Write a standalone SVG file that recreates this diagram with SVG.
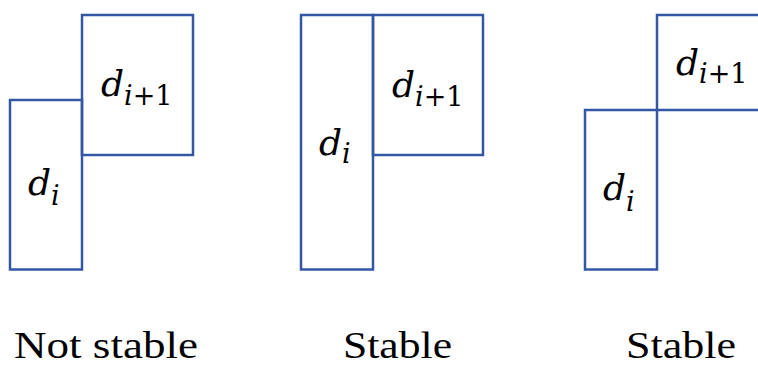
<svg xmlns="http://www.w3.org/2000/svg" width="758" height="365" viewBox="0 0 758 365">
<style>
.box{fill:none;stroke:#3457a5;stroke-width:2.5}
.v{font-family:"DejaVu Serif",serif;font-style:italic;font-size:36px;fill:#000}
.s{font-family:"DejaVu Serif",serif;font-style:normal;font-size:27px;fill:#000}
.si{font-style:italic}
.lbl{font-family:"Liberation Serif",serif;font-size:38px;fill:#000}
</style>
<rect width="758" height="365" fill="#fff"/>
<g id="n1-di">
<rect class="box" x="10" y="100" width="72" height="169.5"/>
<text class="v" x="28" y="195">d<tspan class="s si" dy="10">i</tspan></text>
</g>
<g id="n1-di1">
<rect class="box" x="82" y="15" width="111" height="140"/>
<text class="v" x="101" y="96">d<tspan class="s" dy="9"><tspan class="si">i</tspan>+1</tspan></text>
</g>
<g id="n2-di">
<rect class="box" x="301" y="15" width="72" height="254.5"/>
<text class="v" x="319" y="155">d<tspan class="s si" dy="8">i</tspan></text>
</g>
<g id="n2-di1">
<rect class="box" x="373" y="15" width="110" height="140"/>
<text class="v" x="392" y="97">d<tspan class="s" dy="9"><tspan class="si">i</tspan>+1</tspan></text>
</g>
<g id="n3-di">
<rect class="box" x="585" y="110" width="72" height="159.5"/>
<text class="v" x="603" y="200">d<tspan class="s si" dy="11">i</tspan></text>
</g>
<g id="n3-di1">
<path class="box" d="M657 110 V15 H760 M657 110 H760"/>
<text class="v" x="676" y="75">d<tspan class="s" dy="8"><tspan class="si">i</tspan>+1</tspan></text>
</g>
<g id="labels">
<text class="lbl" x="14" y="358" textLength="184" lengthAdjust="spacingAndGlyphs">Not stable</text>
<text class="lbl" x="343" y="358" textLength="109" lengthAdjust="spacingAndGlyphs">Stable</text>
<text class="lbl" x="626" y="358" textLength="110" lengthAdjust="spacingAndGlyphs">Stable</text>
</g>
</svg>
